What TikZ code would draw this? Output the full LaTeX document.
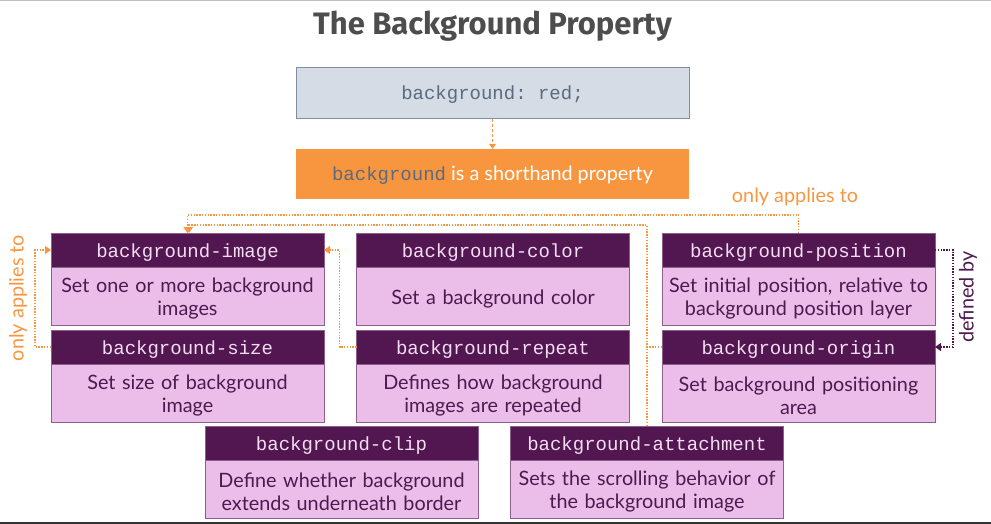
\documentclass[tikz,border=0pt]{standalone}
\usepackage{fontspec}
\setmainfont{Lato}
\setmonofont{Liberation Mono}
\newfontfamily\titlefont{Fira Sans}
\usetikzlibrary{arrows.meta,positioning}
\definecolor{plum}{HTML}{521751}
\definecolor{lightplum}{HTML}{EBBEEA}
\definecolor{plumline}{HTML}{8E5E8C}
\definecolor{plumtext}{HTML}{4C1A4E}
\definecolor{headtext}{HTML}{F2DDF1}
\definecolor{orange}{HTML}{F8963F}
\definecolor{codefill}{HTML}{D6DCE5}
\definecolor{codeline}{HTML}{7E8EA4}
\definecolor{codetext}{HTML}{5A6B80}
\definecolor{titlegrey}{HTML}{4D4D4D}

\begin{document}
\begin{tikzpicture}[x=1pt,y=-1pt,
  node distance=5pt,
  head/.style={draw=plumline,fill=plum,text=headtext,outer sep=0pt,
               minimum width=273pt,minimum height=34pt,inner sep=0pt,
               text height=16pt,text depth=2pt,
               font=\ttfamily\fontsize{19}{22}\selectfont},
  desc/.style={draw=plumline,line width=1pt,fill=lightplum,text=plumtext,outer sep=0pt,
               minimum width=273pt,minimum height=58pt,inner sep=0pt,text width=271pt,
               align=center,font=\fontsize{19.8}{23}\selectfont,
               execute at begin node={\rule{0pt}{20pt}}},
  topbox/.style={minimum width=393pt,inner sep=0pt,text height=15pt,text depth=3pt},
  applies/.style={draw=orange,line width=1.4pt,dash pattern=on 1.4pt off 1.4pt},
  definedby/.style={draw=plum,line width=1.4pt,dash pattern=on 1.4pt off 1.4pt},
  tip/.style={-{Triangle[length=6pt,width=8pt]}},
  note/.style={font=\fontsize{19.8}{22}\selectfont}
]
\useasboundingbox (0,0) rectangle (991,524);
\draw[line width=2pt,draw=black!25] (0,0.5) -- (991,0.5);
\draw[line width=2pt,draw=black!80] (0,523) -- (991,523);

\node[font=\titlefont\bfseries\fontsize{31}{34}\selectfont,text=titlegrey] (title) at (492.5,26) {The Background Property};
\node[topbox,draw=codeline,line width=1pt,fill=codefill,text=codetext,minimum height=51pt,
      font=\ttfamily\fontsize{19}{22}\selectfont] (code) at (492.5,93.5) {background: red;};
\node[topbox,fill=orange,text=white,minimum height=50pt,
      font=\fontsize{19.8}{22}\selectfont] (short) at (492.5,174) {{\ttfamily\fontsize{19}{22}\selectfont\color{codetext}background} is a shorthand property};

% first row
\node[head] (bgimage) at (187.5,250) {background-image};
\node[desc,below=0pt of bgimage] (bgimagetxt) {Set one or more background\\images};
\node[head] (bgcolor) at (493,250) {background-color};
\node[desc,below=0pt of bgcolor] (bgcolortxt) {Set a background color};
\node[head] (bgpos) at (798.5,250) {background-position};
\node[desc,below=0pt of bgpos] (bgpostxt) {Set initial position, relative to\\background position layer};
% second row
\node[head,below=of bgimagetxt] (bgsize) {background-size};
\node[desc,below=0pt of bgsize] (bgsizetxt) {Set size of background\\image};
\node[head,below=of bgcolortxt] (bgrepeat) {background-repeat};
\node[desc,below=0pt of bgrepeat] (bgrepeattxt) {Defines how background\\images are repeated};
\node[head,below=of bgpostxt] (bgorigin) {background-origin};
\node[desc,below=0pt of bgorigin] (bgorigintxt) {Set background positioning\\area};
% third row
\node[head] (bgclip) at (341.5,443) {background-clip};
\node[desc,below=0pt of bgclip] (bgcliptxt) {Define whether background\\extends underneath border};
\node[head] (bgattach) at (647,443) {background-attachment};
\node[desc,below=0pt of bgattach] (bgattachtxt) {Sets the scrolling behavior of\\the background image};

\coordinate (upper) at (0,215);
\coordinate (lower) at (0,225);

\node[note,text=orange] (onlytop) at (795,197) {only applies to};
\node[note,text=orange,rotate=90] (onlyleft) at (18,298) {only applies to};
\node[note,text=plumtext,rotate=90] (defby) at (968,297) {defined by};

\draw[draw=orange,line width=1.4pt,dash pattern=on 3pt off 2pt,-{Triangle[length=5pt,width=7pt]}] (code) -- (short);
\draw[applies,tip] (bgpos.north) -- (bgpos.north |- upper) -| (bgimage.north);
\draw[applies,tip] (bgattach.north) -- (bgattach.north |- lower) -| ([xshift=1.5pt]bgimage.north);
\draw[applies] (bgorigin.west) -- (bgorigin.west -| bgattach.north);
\draw[applies,tip] (bgsize.west) -- ++(-16,0) |- (bgimage.west);
\draw[applies,tip] (bgrepeat.west) -- ++(-17,0) |- (bgimage.east);
\draw[definedby,tip] (bgpos.east) -- ++(18,0) |- (bgorigin.east);
\end{tikzpicture}
\end{document}
